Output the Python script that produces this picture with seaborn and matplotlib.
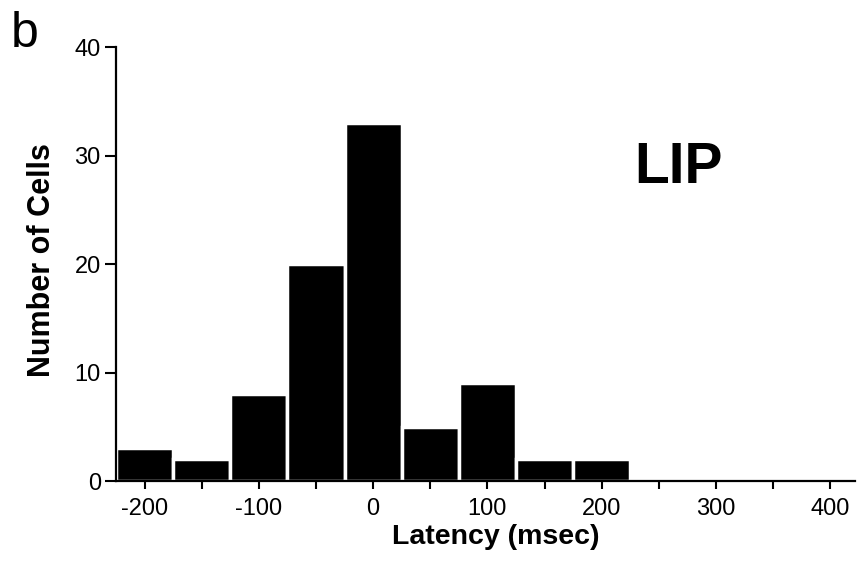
import numpy as np
import pandas as pd
import matplotlib
matplotlib.use("Agg")
import matplotlib.pyplot as plt
from matplotlib.ticker import MultipleLocator
import seaborn as sns

latency_centers = [-200, -150, -100, -50, 0, 50, 100, 150, 200]
cell_counts = [3, 2, 8, 20, 33, 5, 9, 2, 2]
x_ticks = [-200, -100, 0, 100, 200, 300, 400]
y_ticks = [0, 10, 20, 30, 40]

sns.set_style("ticks")
plt.rcParams['font.family'] = ['Liberation Sans', 'DejaVu Sans']
plt.rcParams['text.color'] = 'black'
plt.rcParams['axes.labelcolor'] = 'black'

df = pd.DataFrame({"latency": latency_centers, "count": cell_counts})

fig = plt.figure(figsize=(8.57, 5.61), dpi=100)
ax = fig.add_axes([0.1354, 0.1426, 0.8626, 0.7736])

sns.histplot(data=df, x="latency", weights="count", binwidth=50, binrange=(-225, 225),
             color="black", edgecolor="white", linewidth=2.5, alpha=1.0, ax=ax)

ax.set_xlim(-225, 422)
ax.set_ylim(0, 40)
ax.set_xticks(x_ticks)
ax.set_xticklabels([str(t) for t in x_ticks])
ax.xaxis.set_minor_locator(MultipleLocator(50))
ax.set_yticks(y_ticks)
ax.tick_params(axis="both", which="major", direction="out", width=1.5,
               labelsize=17, colors="black")
ax.tick_params(axis="x", which="major", length=6, pad=6)
ax.tick_params(axis="x", which="minor", direction="out", length=6, width=1.5, colors="black")
ax.tick_params(axis="y", which="major", length=8, pad=3)

for s in ["top", "right"]:
    ax.spines[s].set_visible(False)
for s in ["left", "bottom"]:
    ax.spines[s].set_linewidth(1.6)
    ax.spines[s].set_color("black")

ax.set_xlabel("Latency (msec)", fontsize=20.5, fontweight="bold", color="black")
ax.xaxis.set_label_coords(0.514, -0.098)
ax.set_ylabel("Number of Cells", fontsize=22, fontweight="bold", color="black")
ax.yaxis.set_label_coords(-0.08, 0.51)

ax.text(0.701, 0.687, "LIP", transform=ax.transAxes, fontsize=41, fontweight="bold",
        ha="left", va="baseline", color="black")
fig.text(0.012, 0.916, "b", fontsize=36, ha="left", va="baseline", color="black")

fig.savefig("out.png", dpi=100)
